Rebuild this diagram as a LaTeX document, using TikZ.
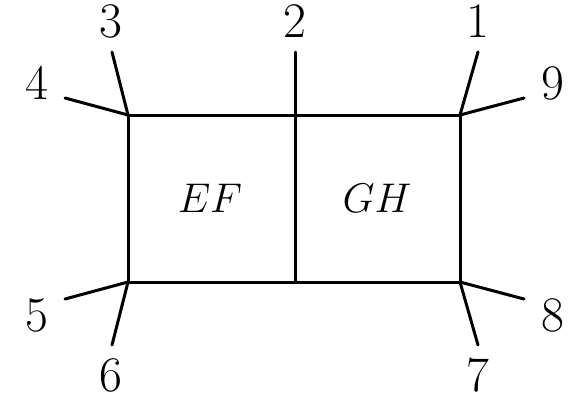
\documentclass[tikz,border=0pt]{standalone}
\begin{document}
\begin{tikzpicture}[x=0.5pt,y=-0.5pt,
  edge/.style={line width=1.5pt,line cap=round},
  num/.style={inner sep=0pt,font=\fontsize{23}{27}\selectfont},
  lab/.style={inner sep=0pt,font=\fontsize{22}{26}\selectfont}]
\useasboundingbox (0,0) rectangle (577,397);
\coordinate (tl) at (128,115);
\coordinate (tm) at (295,115);
\coordinate (tr) at (460,115);
\coordinate (bl) at (128,282);
\coordinate (bm) at (295,282);
\coordinate (br) at (460,282);
\coordinate (e1) at (478,52);
\coordinate (e2) at (295,52);
\coordinate (e3) at (112,52);
\coordinate (e4) at (65,98);
\coordinate (e5) at (65,299);
\coordinate (e6) at (112,345);
\coordinate (e7) at (478,345);
\coordinate (e8) at (524,299);
\coordinate (e9) at (524,98);
\draw[edge] (tl) -- (tr) -- (br) -- (bl) -- cycle;
\draw[edge] (e2) -- (bm);
\draw[edge] (tl) -- (e3);
\draw[edge] (tl) -- (e4);
\draw[edge] (tr) -- (e1);
\draw[edge] (tr) -- (e9);
\draw[edge] (bl) -- (e5);
\draw[edge] (bl) -- (e6);
\draw[edge] (br) -- (e7);
\draw[edge] (br) -- (e8);
\node[num] (n1) at (478,21) {$1$};
\node[num] (n2) at (295,21) {$2$};
\node[num] (n3) at (111,21) {$3$};
\node[num] (n4) at (37,83) {$4$};
\node[num] (n5) at (37,315) {$5$};
\node[num] (n6) at (111,375) {$6$};
\node[num] (n7) at (478,375) {$7$};
\node[num] (n8) at (553,315) {$8$};
\node[num] (n9) at (553,83) {$9$};
\node[lab] (ef) at (210,198) {$EF$};
\node[lab] (gh) at (377,198) {$GH$};
\end{tikzpicture}
\end{document}
